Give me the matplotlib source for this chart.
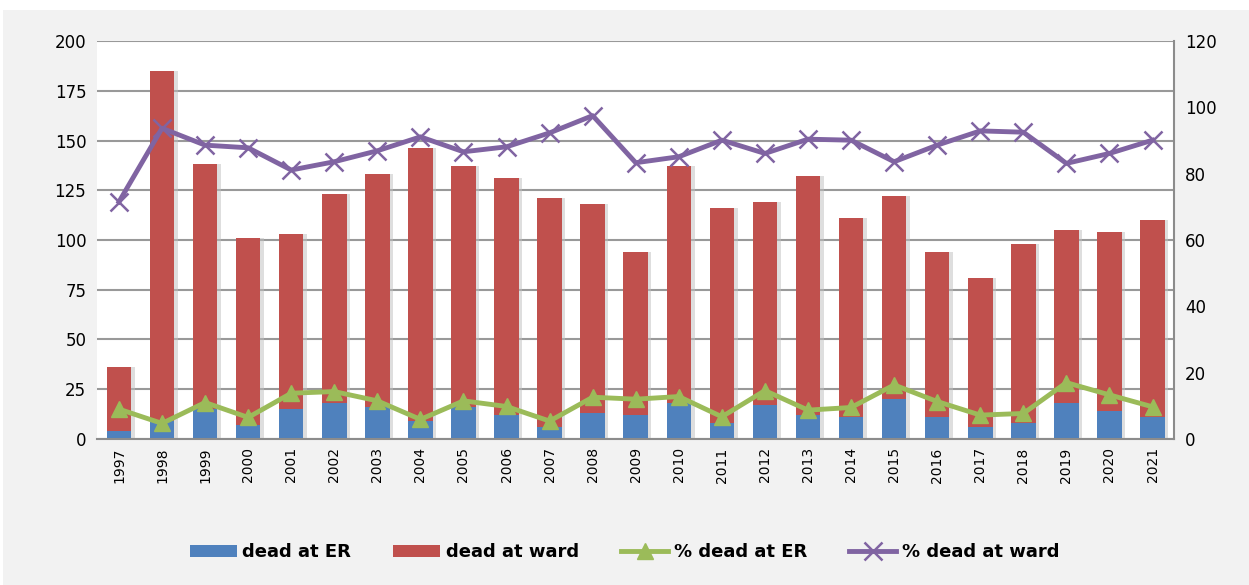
import matplotlib.pyplot as plt
from matplotlib.patches import Rectangle
import numpy as np

years = [str(y) for y in range(1997, 2022)]
dead_er = [4, 9, 15, 7, 15, 18, 16, 9, 16, 12, 6, 13, 12, 18, 8, 17, 12, 11, 20, 11, 6, 8, 18, 14, 11]
dead_total = [36, 185, 138, 101, 103, 123, 133, 146, 137, 131, 121, 118, 94, 137, 116, 119, 132, 111, 122, 94, 81, 98, 105, 104, 110]
dead_ward = [t - e for t, e in zip(dead_total, dead_er)]
pct_er = [9, 4.7, 11, 6.5, 13.8, 14.3, 11.5, 5.9, 11.5, 9.8, 5.4, 12.6, 12, 12.8, 6.7, 14.6,
          8.7, 9.5, 16.3, 11.3, 7.2, 7.7, 17, 13.3, 9.7]
pct_ward = [71.5, 93.7, 88.6, 87.8, 81.1, 83.6, 86.9, 91.1, 86.6, 88.1, 92.3, 97.5, 83.3, 85.1,
            90.1, 86.1, 90.4, 90.1, 83.6, 88.6, 92.9, 92.5, 83.1, 86.1, 90.1]

blue = '#4f81bd'
red = '#c0504d'
green = '#9bbb59'
purple = '#8064a2'

fig = plt.figure(figsize=(12.49, 5.85), dpi=100, facecolor='white')
# grey chart area, with a thin white margin at top/left as in the source
fig.patches.append(Rectangle((3 / 1249, 0), 1, 1 - 10 / 585, transform=fig.transFigure,
                             facecolor='#f2f2f2', edgecolor='none', zorder=-10))
ax = fig.add_axes([0.078, 0.2496, 0.862, 0.6803])
ax.set_facecolor('white')

x = np.arange(len(years))
w = 0.57
# soft shadow behind bars
ax.bar(x + 0.08, dead_total, w, color='#bfbfbf', alpha=0.5, zorder=1)
b1 = ax.bar(x, dead_er, w, color=blue, zorder=2, label='dead at ER')
b2 = ax.bar(x, dead_ward, w, bottom=dead_er, color=red, zorder=2, label='dead at ward')

ax.set_ylim(0, 200)
ax.set_yticks(range(0, 201, 25))
ax.set_xlim(-0.5, len(years) - 0.5)
ax.set_xticks(x)
ax.set_xticklabels(years, rotation=90, fontsize=10)
ax.yaxis.grid(True, color='#999999', linewidth=1.5, zorder=0)
ax.set_axisbelow(True)
for s in ['left', 'top', 'right']:
    ax.spines[s].set_visible(False)
ax.spines['bottom'].set_color('#8c8c8c')
ax.spines['bottom'].set_linewidth(1.5)
ax.tick_params(axis='both', length=0, labelsize=12, pad=8)
ax.tick_params(axis='x', labelsize=10, pad=6)

ax2 = ax.twinx()
ax2.set_ylim(0, 120)
ax2.set_yticks(range(0, 121, 20))
l1, = ax2.plot(x, pct_er, color=green, lw=3.5, marker='^', markersize=12, zorder=3, label='% dead at ER')
l2, = ax2.plot(x, pct_ward, color=purple, lw=3.5, marker='x', markersize=13, mew=1.8, zorder=3,
               label='% dead at ward')
for s in ['left', 'top', 'bottom']:
    ax2.spines[s].set_visible(False)
ax2.spines['right'].set_color('#8c8c8c')
ax2.spines['right'].set_linewidth(1.5)
ax2.tick_params(axis='y', length=0, labelsize=12, pad=8)

fig.legend(handles=[b1, b2, l1, l2], loc='center', bbox_to_anchor=(0.5, 0.056), ncol=4,
           frameon=False, prop={'weight': 'bold', 'size': 13}, columnspacing=2.35,
           handlelength=2.6, handletextpad=0.3)

fig.savefig('out.png', dpi=100, facecolor=fig.get_facecolor())
